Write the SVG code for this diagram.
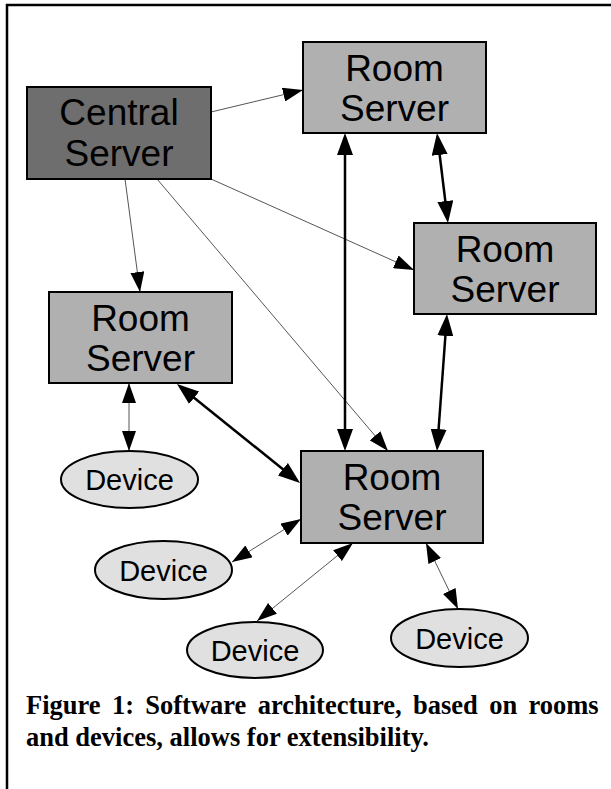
<svg xmlns="http://www.w3.org/2000/svg" width="611" height="789" viewBox="0 0 611 789">
  <style>
    .frame { stroke: #000; stroke-width: 2.5; fill: none; }
    .box { stroke: #000; stroke-width: 2; }
    .room { fill: #b0b0b0; }
    .central { fill: #6e6e6e; }
    .dev { fill: #e0e0e0; stroke: #000; stroke-width: 2; }
    .lbl { font-family: "Liberation Sans", Arial, sans-serif; font-size: 37px; fill: #000; text-anchor: middle; }
    .dlbl { font-family: "Liberation Sans", Arial, sans-serif; font-size: 29px; fill: #000; text-anchor: middle; }
    .thin { stroke: #555; stroke-width: 1; fill: none; }
    .thick { stroke: #000; stroke-width: 2.5; fill: none; }
    .cap { font-family: "Liberation Serif", "Times New Roman", serif; font-weight: bold; font-size: 26.5px; fill: #000; }
  </style>
  <defs>
    <marker id="ah" viewBox="0 0 20 14" refX="20" refY="7" markerWidth="20" markerHeight="14" markerUnits="userSpaceOnUse" orient="auto-start-reverse">
      <path d="M0,0 L20,7 L0,14 Z" fill="#000"/>
    </marker>
    <marker id="ahb" viewBox="0 0 22 16" refX="18" refY="8" markerWidth="22" markerHeight="16" markerUnits="userSpaceOnUse" orient="auto-start-reverse">
      <path d="M0,0 L22,8 L0,16 Z" fill="#000"/>
    </marker>
  </defs>

  <!-- figure frame: top and left rules -->
  <path class="frame" d="M7,789 V5 H611"/>

  <g id="connectors">
    <!-- central server fan-out -->
    <line class="thin" x1="211" y1="112" x2="303" y2="90" marker-end="url(#ah)"/>
    <line class="thin" x1="125" y1="179" x2="140" y2="292" marker-end="url(#ah)"/>
    <line class="thin" x1="157" y1="179" x2="388" y2="451" marker-end="url(#ah)"/>
    <line class="thin" x1="211" y1="179" x2="414" y2="270" marker-end="url(#ah)"/>
    <!-- room server links -->
    <line class="thick" x1="345" y1="137" x2="345" y2="447" marker-start="url(#ahb)" marker-end="url(#ahb)"/>
    <line class="thick" x1="437.5" y1="137" x2="447.5" y2="219" marker-start="url(#ahb)" marker-end="url(#ahb)"/>
    <line class="thick" x1="446.7" y1="318" x2="437.3" y2="447" marker-start="url(#ahb)" marker-end="url(#ahb)"/>
    <line class="thick" x1="180.1" y1="386.5" x2="296.9" y2="480.5" marker-start="url(#ahb)" marker-end="url(#ahb)"/>
    <!-- device links -->
    <line class="thin" x1="129" y1="383" x2="129" y2="451" marker-start="url(#ah)" marker-end="url(#ah)"/>
    <line class="thin" x1="301" y1="519" x2="232" y2="562" marker-start="url(#ah)" marker-end="url(#ah)"/>
    <line class="thin" x1="353" y1="543" x2="257" y2="621" marker-start="url(#ah)" marker-end="url(#ah)"/>
    <line class="thin" x1="426" y1="543" x2="458" y2="609" marker-start="url(#ah)" marker-end="url(#ah)"/>
  </g>

  <g id="central-server">
    <rect class="box central" x="27" y="87" width="184" height="92"/>
    <text class="lbl" x="119" y="125">Central</text>
    <text class="lbl" x="119" y="166">Server</text>
  </g>

  <g id="room-server-top">
    <rect class="box room" x="303" y="42" width="183" height="91"/>
    <text class="lbl" x="394.5" y="81">Room</text>
    <text class="lbl" x="394.5" y="121">Server</text>
  </g>

  <g id="room-server-right">
    <rect class="box room" x="414" y="223" width="182" height="91"/>
    <text class="lbl" x="505" y="262">Room</text>
    <text class="lbl" x="505" y="302">Server</text>
  </g>

  <g id="room-server-left">
    <rect class="box room" x="49" y="292" width="183" height="91"/>
    <text class="lbl" x="140.5" y="331">Room</text>
    <text class="lbl" x="140.5" y="371">Server</text>
  </g>

  <g id="room-server-bottom">
    <rect class="box room" x="301" y="451" width="182" height="92"/>
    <text class="lbl" x="392" y="490">Room</text>
    <text class="lbl" x="392" y="530">Server</text>
  </g>

  <g id="device-1">
    <ellipse class="dev" cx="129.5" cy="479.5" rx="68.5" ry="28.5"/>
    <text class="dlbl" x="129.5" y="490">Device</text>
  </g>

  <g id="device-2">
    <ellipse class="dev" cx="163.5" cy="570" rx="68.5" ry="29"/>
    <text class="dlbl" x="163.5" y="580.5">Device</text>
  </g>

  <g id="device-3">
    <ellipse class="dev" cx="255" cy="650" rx="68" ry="28"/>
    <text class="dlbl" x="255" y="660.5">Device</text>
  </g>

  <g id="device-4">
    <ellipse class="dev" cx="459.5" cy="638" rx="68.5" ry="29"/>
    <text class="dlbl" x="459.5" y="648.5">Device</text>
  </g>

  <g id="caption">
    <text class="cap" x="26" y="714" word-spacing="4.7">Figure 1: Software architecture, based on rooms</text>
    <text class="cap" x="26" y="746">and devices, allows for extensibility.</text>
  </g>
</svg>
